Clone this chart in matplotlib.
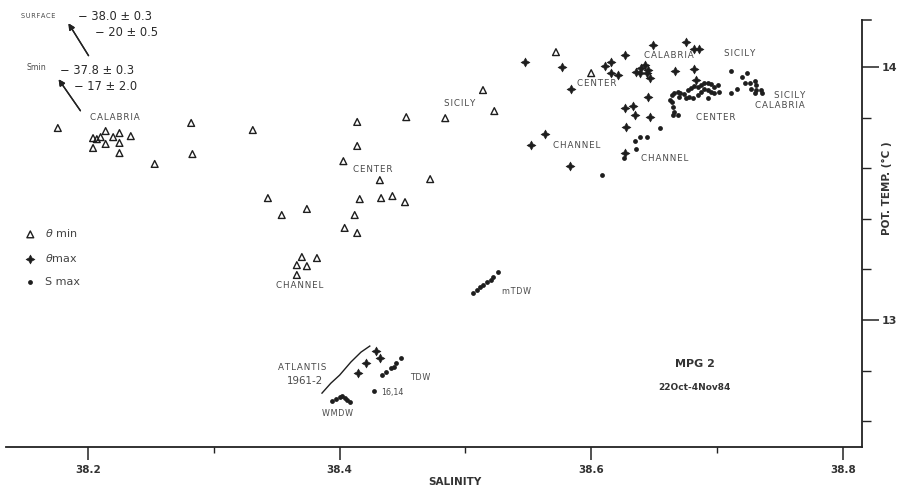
import matplotlib
matplotlib.use("Agg")
import matplotlib.pyplot as plt

plt.rcParams['font.family'] = ['DejaVu Sans']

# ---------------- data ----------------
# theta-min (open triangles)
tmin_s = [38.176, 38.204, 38.210, 38.214, 38.220, 38.225, 38.234, 38.204, 38.214, 38.225,
          38.225, 38.207, 38.253, 38.282, 38.283, 38.331, 38.414, 38.453, 38.484, 38.523,
          38.514, 38.414, 38.403, 38.432, 38.472, 38.343, 38.416, 38.433, 38.442, 38.452,
          38.354, 38.374, 38.412, 38.404, 38.414, 38.370, 38.382, 38.366, 38.374, 38.366,
          38.572, 38.600]
tmin_t = [13.759, 13.719, 13.723, 13.747, 13.723, 13.739, 13.727, 13.680, 13.696, 13.700,
          13.660, 13.715, 13.617, 13.779, 13.656, 13.751, 13.783, 13.802, 13.798, 13.826,
          13.909, 13.688, 13.628, 13.553, 13.557, 13.482, 13.478, 13.482, 13.490, 13.466,
          13.415, 13.439, 13.415, 13.364, 13.344, 13.249, 13.245, 13.217, 13.213, 13.178,
          14.059, 13.976]

# theta-max (filled four-point stars)
tmax_s = [38.547, 38.577, 38.649, 38.675, 38.682, 38.686, 38.627, 38.611, 38.616, 38.616,
          38.621, 38.584, 38.636, 38.640, 38.643, 38.644, 38.647, 38.639, 38.645, 38.667,
          38.682, 38.683, 38.645, 38.627, 38.633, 38.635, 38.647, 38.628, 38.563, 38.552,
          38.583, 38.627, 38.429, 38.432, 38.421, 38.415]
tmax_t = [14.020, 14.000, 14.087, 14.099, 14.071, 14.071, 14.047, 14.004, 14.020, 13.976,
          13.968, 13.913, 13.980, 13.996, 14.008, 13.976, 13.957, 13.976, 13.988, 13.984,
          13.992, 13.949, 13.881, 13.838, 13.846, 13.810, 13.802, 13.763, 13.735, 13.692,
          13.609, 13.660, 12.877, 12.850, 12.830, 12.790]

# S-max (filled dots)
smax_s = [38.609, 38.655, 38.639, 38.644, 38.635, 38.636, 38.626,
          38.664, 38.663, 38.665, 38.666, 38.669, 38.665, 38.664,
          38.666, 38.669, 38.671, 38.674, 38.677, 38.679, 38.682, 38.685, 38.687, 38.690,
          38.693, 38.695, 38.698, 38.701, 38.678, 38.681, 38.685, 38.687, 38.690, 38.693,
          38.695, 38.698, 38.675, 38.693, 38.670,
          38.711, 38.720, 38.724, 38.722, 38.726, 38.730, 38.731, 38.727, 38.731, 38.735,
          38.736, 38.730, 38.711, 38.716, 38.702,
          38.434, 38.437, 38.441, 38.443, 38.445, 38.449,
          38.427,
          38.394, 38.397, 38.400, 38.402, 38.404, 38.406, 38.408,
          38.506, 38.509, 38.512, 38.514, 38.517, 38.520, 38.522, 38.526]
smax_t = [13.573, 13.759, 13.723, 13.723, 13.707, 13.676, 13.640,
          13.889, 13.870, 13.842, 13.822, 13.810, 13.810, 13.862,
          13.897, 13.901, 13.897, 13.893, 13.909, 13.917, 13.925, 13.921, 13.929, 13.937,
          13.937, 13.933, 13.921, 13.929, 13.881, 13.877, 13.889, 13.901, 13.913, 13.909,
          13.901, 13.897, 13.877, 13.877, 13.881,
          13.984, 13.960, 13.976, 13.937, 13.937, 13.945, 13.929, 13.913, 13.909, 13.909,
          13.897, 13.897, 13.897, 13.913, 13.901,
          12.782, 12.794, 12.810, 12.814, 12.830, 12.850,
          12.719,
          12.680, 12.688, 12.696, 12.699, 12.692, 12.684, 12.676,
          13.107, 13.118, 13.130, 13.138, 13.150, 13.158, 13.170, 13.190]

# ATLANTIS 1961-2 curve
atl_s = [38.386, 38.393, 38.400, 38.409, 38.417, 38.424]
atl_t = [12.711, 12.750, 12.782, 12.834, 12.873, 12.897]

xticks_major = [38.2, 38.4, 38.6, 38.8]
xticks_minor = [38.3, 38.5, 38.7]
yticks_major = [13, 14]
yticks_minor = [12.6, 12.8, 13.2, 13.4, 13.6, 13.8]

# ---------------- figure ----------------
W, H = 903, 493
fig = plt.figure(figsize=(W / 100, H / 100), dpi=100)
ax = fig.add_axes([6 / W, 1 - 447 / H, (862 - 6) / W, (447 - 20) / H])
ax.set_xlim(38.1348, 38.8153)
ax.set_ylim(12.498, 14.186)

ink = '#1e1e1e'
gray = '#4a4a4a'

ax.scatter(tmin_s, tmin_t, marker='^', s=24, facecolors='none', edgecolors=ink,
           linewidths=1.0, label=r'$\theta$ min', zorder=3)
ax.scatter(tmax_s, tmax_t, marker=(4, 1, 0), s=42, color=ink, linewidths=0.4,
           label=r'$\theta$max', zorder=3)
ax.scatter(smax_s, smax_t, marker='o', s=12, color=ink, linewidths=0,
           label='S max', zorder=3)
ax.plot(atl_s, atl_t, color=ink, lw=1.0, zorder=2)

for sp_ in ['top', 'left']:
    ax.spines[sp_].set_visible(False)
for sp_ in ['bottom', 'right']:
    ax.spines[sp_].set_linewidth(1.3)
    ax.spines[sp_].set_color('#222222')

ax.set_xticks(xticks_major)
ax.set_xticks(xticks_minor, minor=True)
ax.set_xticklabels([f'{v:.1f}' for v in xticks_major])
ax.set_yticks(yticks_major)
ax.set_yticks(yticks_minor, minor=True)
ax.set_yticklabels([str(v) for v in yticks_major])
ax.yaxis.tick_right()
ax.tick_params(axis='x', which='major', direction='out', length=9, width=1.1,
               pad=4, labelsize=7.5, colors='#222222', labelcolor='#333333')
ax.tick_params(axis='x', which='minor', direction='out', length=4.5, width=1.0,
               colors='#222222')
ax.tick_params(axis='y', which='major', direction='out', length=12, width=1.1,
               pad=2, labelsize=8, colors='#222222', labelcolor='#333333')
ax.tick_params(axis='y', which='minor', direction='out', length=6.5, width=1.0,
               colors='#222222')
for lab in ax.get_xticklabels() + ax.get_yticklabels():
    lab.set_fontweight('bold')

# small tick at the top corner of the right axis
ax.plot([1, 1 + 9 / 856], [1, 1], transform=ax.transAxes, color='#222222',
        lw=1.1, clip_on=False)

# axis titles
fig.text(455 / W, 1 - 482 / H, 'SALINITY', ha='center', va='center', fontsize=7.5,
         fontweight='bold', color='#333333')
fig.text(887 / W, 1 - 188 / H, 'POT. TEMP. (°C )', ha='center', va='center',
         rotation=90, fontsize=7.5, fontweight='bold', color='#333333')

# legend
ax.legend(loc='upper left', bbox_to_anchor=(0.018, 0.525), frameon=False,
          handlelength=0.8, handletextpad=0.9, labelspacing=1.15, fontsize=8,
          borderaxespad=0, labelcolor='#444444')


def sp(s):
    return '\u200a'.join(s)


def ftext(x, y, s, size=6.3, color=gray, ha='center', **kw):
    fig.text(x / W, 1 - y / H, s, ha=ha, va='center', fontsize=size, color=color, **kw)


# top-left annotations
ftext(21, 16, sp('SURFACE'), size=4.8, ha='left')
ftext(78, 16, '− 38.0 ± 0.3', size=8.3, color='#2a2a2a', ha='left')
ftext(95, 33, '− 20 ± 0.5', size=8.3, color='#2a2a2a', ha='left')
ftext(27, 68, 'Smin', size=5.6, ha='left')
ftext(60, 70, '− 37.8 ± 0.3', size=8.3, color='#2a2a2a', ha='left')
ftext(74, 86, '− 17 ± 2.0', size=8.3, color='#2a2a2a', ha='left')
arrow = dict(arrowstyle='-|>', color='#222222', lw=1.0, mutation_scale=9)
fig.add_artist(plt.annotate('', xy=(67 / W, 1 - 21 / H), xytext=(90 / W, 1 - 58 / H),
                            xycoords='figure fraction', textcoords='figure fraction',
                            arrowprops=arrow))
fig.add_artist(plt.annotate('', xy=(57 / W, 1 - 77 / H), xytext=(82 / W, 1 - 113 / H),
                            xycoords='figure fraction', textcoords='figure fraction',
                            arrowprops=arrow))

# region labels
ftext(115, 118, sp('CALABRIA'))
ftext(460, 104, sp('SICILY'))
ftext(373, 170, sp('CENTER'))
ftext(300, 286, sp('CHANNEL'))
ftext(517, 292, sp('mTDW'), size=5.8)
ftext(669, 56, sp('CALABRIA'))
ftext(740, 53, sp('SICILY'))
ftext(597, 84, sp('CENTER'))
ftext(577, 145, sp('CHANNEL'))
ftext(790, 96, sp('SICILY'))
ftext(780, 106, sp('CALABRIA'))
ftext(716, 118, sp('CENTER'))
ftext(665, 159, sp('CHANNEL'))
ftext(302, 368, sp('ATLANTIS'))
ftext(305, 381, '1961-2', size=7.4)
ftext(420, 377, sp('TDW'), size=5.8)
ftext(392, 392, '16,14', size=5.8, ha='center')
ftext(337, 414, sp('WMDW'), size=5.8)
ftext(695, 364, 'MPG 2', size=8, color='#333333', fontweight='bold')
ftext(694, 388, '22Oct-4Nov84', size=6.5, color='#333333', fontweight='bold')

fig.savefig('out.png', dpi=100, facecolor='white')
